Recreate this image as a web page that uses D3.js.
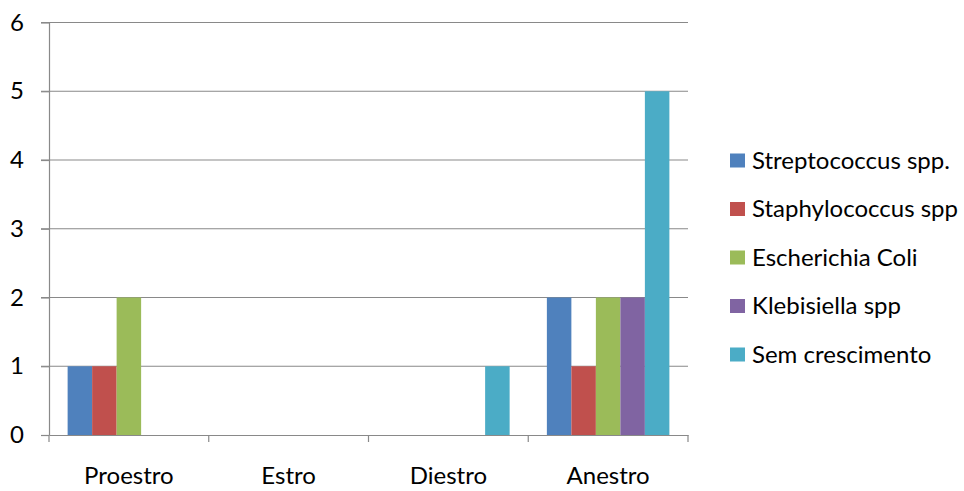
<!DOCTYPE html>
<html><head><meta charset="utf-8">
<script src="https://cdn.jsdelivr.net/npm/d3@7"></script>
<style>html,body{margin:0;padding:0;background:#fff;}svg{display:block;}</style>
</head><body>
<svg id="chart" width="964" height="491"></svg>
<script>
const categories = ["Proestro", "Estro", "Diestro", "Anestro"];
const seriesNames = ["Streptococcus spp.", "Staphylococcus spp", "Escherichia Coli", "Klebisiella spp", "Sem crescimento"];
const streptococcus = [1, 0, 0, 2];
const staphylococcus = [1, 0, 0, 1];
const escherichia = [2, 0, 0, 2];
const klebisiella = [0, 0, 0, 2];
const semCrescimento = [0, 0, 1, 5];
const yTicks = [0, 1, 2, 3, 4, 5, 6];
const colors = ["#4F81BD", "#C0504D", "#9BBB59", "#8064A2", "#4BACC6"];

const seriesValues = [streptococcus, staphylococcus, escherichia, klebisiella, semCrescimento];
const svg = d3.select("#chart");
const FONT = "Lato, 'Open Sans', sans-serif";
const FS = 24;
const mLeft = 49, mRight = 688, mTop = 22.5, mBottom = 435;
const gridColor = "#898989";

const x = d3.scaleBand().domain(categories).range([mLeft, mRight]).paddingInner(0).paddingOuter(0);
const x1 = d3.scaleBand().domain(seriesNames).range([0, x.bandwidth()]).paddingOuter(0.76).paddingInner(0);
const y = d3.scaleLinear().domain([0, 6]).range([mBottom, mTop]);

// gridlines
svg.append("g").selectAll("line").data(yTicks.filter(d => d > 0)).join("line")
  .attr("x1", mLeft - 8).attr("x2", mRight)
  .attr("y1", d => y(d)).attr("y2", d => y(d))
  .attr("stroke", gridColor).attr("stroke-width", 1.2);

// bars
const groups = svg.append("g").selectAll("g").data(categories).join("g")
  .attr("transform", c => `translate(${x(c)},0)`);
groups.selectAll("rect").data((c, i) => seriesNames.map((s, j) => ({s, j, v: seriesValues[j][i]})))
  .join("rect")
  .attr("x", d => x1(d.s)).attr("width", x1.bandwidth())
  .attr("y", d => y(d.v)).attr("height", d => y(0) - y(d.v))
  .attr("fill", d => colors[d.j]);

// y axis
const yAxis = svg.append("g").attr("transform", `translate(${mLeft},0)`)
  .call(d3.axisLeft(y).tickValues(yTicks).tickFormat(d3.format("d")).tickSize(8).tickPadding(17).tickSizeOuter(0));
yAxis.select(".domain").attr("stroke", gridColor).attr("stroke-width", 1.2);
yAxis.selectAll(".tick line").attr("stroke", gridColor).attr("stroke-width", 1.2);
yAxis.selectAll("text").attr("font-family", FONT).attr("font-size", FS).attr("fill", "#000");

// x axis
const xAxis = svg.append("g").attr("transform", `translate(0,${mBottom})`)
  .call(d3.axisBottom(x).tickSize(0).tickPadding(32));
xAxis.select(".domain").attr("stroke", gridColor).attr("stroke-width", 1.2);
xAxis.selectAll("text").attr("font-family", FONT).attr("font-size", FS).attr("fill", "#000");
// category boundary ticks
const bounds = [mLeft].concat(categories.map(c => x(c) + x.bandwidth()));
svg.append("g").selectAll("line").data(bounds).join("line")
  .attr("x1", d => d).attr("x2", d => d).attr("y1", mBottom).attr("y2", mBottom + 7)
  .attr("stroke", gridColor).attr("stroke-width", 1.2);

// legend
const legY = d3.scalePoint().domain(seriesNames).range([160.5, 354.5]);
const leg = svg.append("g").selectAll("g").data(seriesNames).join("g")
  .attr("transform", s => `translate(730,${legY(s)})`);
leg.append("rect").attr("x", 0).attr("y", -7).attr("width", 15).attr("height", 14)
  .attr("fill", (s, i) => colors[i]);
leg.append("text").attr("x", 22).attr("y", 0).attr("dy", "0.35em")
  .attr("font-family", FONT).attr("font-size", FS).attr("fill", "#000").text(s => s);
</script>
</body></html>
